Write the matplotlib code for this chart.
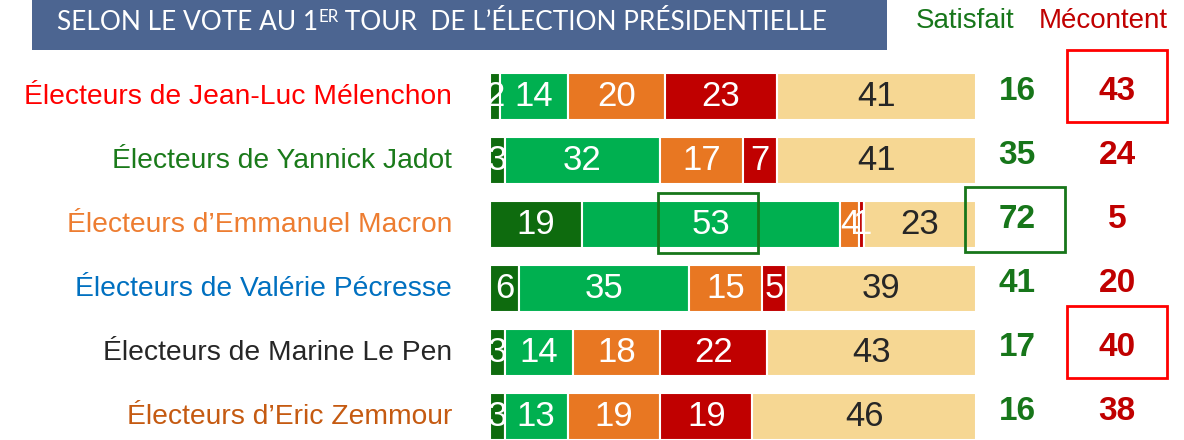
import matplotlib
matplotlib.use("Agg")
import matplotlib.pyplot as plt
from matplotlib.patches import Rectangle

# Survey data: satisfaction with the outcome, by first-round vote
groups = [
    "Électeurs de Jean-Luc Mélenchon",
    "Électeurs de Yannick Jadot",
    "Électeurs d’Emmanuel Macron",
    "Électeurs de Valérie Pécresse",
    "Électeurs de Marine Le Pen",
    "Électeurs d’Eric Zemmour",
]
group_colors = ["#FF0000", "#1A7A1A", "#ED7D31", "#0070C0", "#262626", "#C55A11"]

tres_satisfait = [2, 3, 19, 6, 3, 3]
plutot_satisfait = [14, 32, 53, 35, 14, 13]
plutot_mecontent = [20, 17, 4, 15, 18, 19]
tres_mecontent = [23, 7, 1, 5, 22, 19]
sans_opinion = [41, 41, 23, 39, 43, 46]

series = [tres_satisfait, plutot_satisfait, plutot_mecontent, tres_mecontent, sans_opinion]
series_colors = ["#0E6B0E", "#00B050", "#E87722", "#C00000", "#F6D793"]
label_colors = ["white", "white", "white", "white", "#262626"]

satisfait = [a + b for a, b in zip(tres_satisfait, plutot_satisfait)]
mecontent = [a + b for a, b in zip(plutot_mecontent, tres_mecontent)]

title_main = "SELON LE VOTE AU 1"
title_sup = "ER"
title_rest = " TOUR  DE L’ÉLECTION PRÉSIDENTIELLE"

# highlighted cells
boxed_mecontent = [0, 4]
boxed_satisfait = [2]
boxed_segment = (2, 1)  # (row, series)

W, H = 1184, 440
fig = plt.figure(figsize=(W / 100, H / 100), dpi=100)
fig.patch.set_facecolor("white")

sans = ["Liberation Sans", "DejaVu Sans"]

# --- bar axes --------------------------------------------------------------
x0_px, x1_px = 490, 976
top_px, row_px = 64.5, 64
n = len(groups)
ax = fig.add_axes([x0_px / W, (H - (top_px + row_px * n)) / H,
                   (x1_px - x0_px) / W, row_px * n / H])
ax.set_xlim(0, 100)
ax.set_ylim(n - 0.5, -0.5)
ax.axis("off")

bar_h = 0.735
for i in range(n):
    left = 0
    for s, vals in enumerate(series):
        v = vals[i]
        ax.barh(i, v, left=left, height=bar_h, color=series_colors[s],
                edgecolor="white", linewidth=1.5)
        ax.text(left + v / 2, i, str(v), ha="center", va="center",
                fontsize=25, color=label_colors[s], family=sans)
        left += v

px_per_unit = (x1_px - x0_px) / 100.0


def px2x(px):
    return (px - x0_px) / px_per_unit


# group labels
for i, g in enumerate(groups):
    ax.text(px2x(452), i, g, ha="right", va="center", fontsize=20.3,
            color=group_colors[i], family=sans, clip_on=False)

# summary columns
col_sat = px2x(1017)
col_mec = px2x(1117)
for i in range(n):
    ax.text(col_sat, i - 0.08, str(satisfait[i]), ha="center", va="center",
            fontsize=24, fontweight="bold", color="#17761A", family=sans,
            clip_on=False)
    ax.text(col_mec, i - 0.08, str(mecontent[i]), ha="center", va="center",
            fontsize=24, fontweight="bold", color="#C00000", family=sans,
            clip_on=False)

box_w = 100 / px_per_unit
for i in boxed_mecontent:
    ax.add_patch(Rectangle((col_mec - box_w / 2, i - 0.16 - 0.56), box_w, 1.12,
                           fill=False, edgecolor="#FF0000", linewidth=2,
                           clip_on=False))
for i in boxed_satisfait:
    ax.add_patch(Rectangle((col_sat - box_w / 2 - 0.4, i - 0.08 - 0.51), box_w, 1.02,
                           fill=False, edgecolor="#17761A", linewidth=2,
                           clip_on=False))
r, s = boxed_segment
seg_left = sum(series[k][r] for k in range(s))
seg_c = seg_left + series[s][r] / 2 - 0.6
ax.add_patch(Rectangle((seg_c - box_w / 2, r - 0.02 - 0.47), box_w, 0.94,
                       fill=False, edgecolor="#17761A", linewidth=2,
                       clip_on=False, zorder=5))

# --- header ---------------------------------------------------------------
ov = fig.add_axes([0, 0, 1, 1], zorder=-1)
ov.set_xlim(0, W)
ov.set_ylim(H, 0)
ov.axis("off")
ov.add_patch(Rectangle((32, 0), 855, 50, color="#4C6591", linewidth=0))

col_y = 20.5
ov.text(965, col_y, "Satisfait", ha="center", va="center", fontsize=20,
        color="#17761A", family=sans)
ov.text(1103, col_y, "Mécontent", ha="center", va="center", fontsize=20,
        color="#C00000", family=sans)

# title in three runs (with raised "ER")
fig.canvas.draw()
renderer = fig.canvas.get_renderer()
tfont = ["Lato", "DejaVu Sans"]
tsize = 20
t_left, t_right, base = 57, 825, 30


def build(size):
    parts = []
    x = t_left
    t1 = ov.text(x, base, title_main, fontsize=size, color="white",
                 family=tfont, va="baseline", ha="left")
    parts.append(t1)
    bb = t1.get_window_extent(renderer)
    x += bb.width
    t2 = ov.text(x, base - size * 0.42, title_sup, fontsize=size * 0.65,
                 color="white", family=tfont, va="baseline", ha="left")
    parts.append(t2)
    x += t2.get_window_extent(renderer).width
    t3 = ov.text(x, base, title_rest, fontsize=size, color="white",
                 family=tfont, va="baseline", ha="left")
    parts.append(t3)
    x += t3.get_window_extent(renderer).width
    return parts, x


parts, xe = build(tsize)
scale = (t_right - t_left) / (xe - t_left)
for p in parts:
    p.remove()
build(tsize * scale)

fig.savefig("out.png", dpi=100, facecolor="white")
